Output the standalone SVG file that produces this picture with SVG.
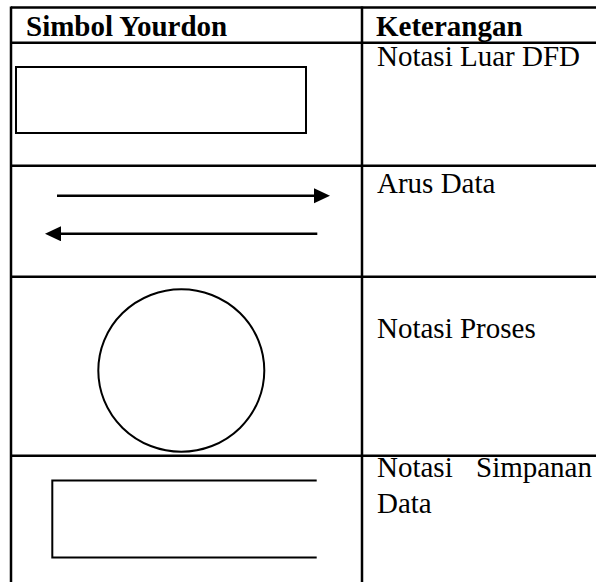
<svg xmlns="http://www.w3.org/2000/svg" width="596" height="582" viewBox="0 0 596 582">
  <style>
    .grid { stroke: #000; stroke-width: 2.5; fill: none; }
    .shape { stroke: #000; stroke-width: 2; fill: none; }
    .flow { stroke: #000; stroke-width: 2.5; fill: none; }
    text { font-family: 'Liberation Serif', 'Times New Roman', Times, 'DejaVu Serif', serif; font-size: 29px; fill: #000; }
    .hdr { font-weight: bold; }
  </style>
  <defs>
    <marker id="arrow" markerUnits="userSpaceOnUse" markerWidth="16" markerHeight="16" refX="4" refY="7.5" orient="auto">
      <path d="M0,0 L16,7.5 L0,15 Z" fill="#000"/>
    </marker>
  </defs>
  <rect width="596" height="582" fill="#fff"/>
  <g id="table">
    <line class="grid" x1="11" y1="7.5" x2="596" y2="7.5"/>
    <line class="grid" x1="11" y1="6.5" x2="11" y2="582"/>
    <line class="grid" x1="362" y1="6.5" x2="362" y2="582"/>
    <line class="grid" x1="11" y1="42.7" x2="596" y2="42.7"/>
    <line class="grid" x1="11" y1="165.7" x2="596" y2="165.7"/>
    <line class="grid" x1="11" y1="276.7" x2="596" y2="276.7"/>
    <line class="grid" x1="11" y1="455.7" x2="596" y2="455.7"/>
    <text class="hdr" x="26" y="36" font-family="Liberation Serif, serif">Simbol Yourdon</text>
    <text class="hdr" x="376" y="36" font-family="Liberation Serif, serif">Keterangan</text>
    <text x="377" y="65.5" font-family="Liberation Serif, serif">Notasi Luar DFD</text>
    <text x="377" y="192.7" font-family="Liberation Serif, serif">Arus Data</text>
    <text x="377" y="338.3" font-family="Liberation Serif, serif">Notasi Proses</text>
    <text x="377" y="476.7" font-family="Liberation Serif, serif">Notasi</text>
    <text x="592" y="476.7" text-anchor="end" font-family="Liberation Serif, serif">Simpanan</text>
    <text x="377" y="513.3" font-family="Liberation Serif, serif">Data</text>
  </g>
  <g id="external-entity">
    <rect class="shape" x="16" y="67" width="290" height="66"/>
  </g>
  <g id="connectors">
    <line class="flow" x1="57" y1="195.7" x2="318" y2="195.7" marker-end="url(#arrow)"/>
    <line class="flow" x1="317.3" y1="233.8" x2="57" y2="233.8" marker-end="url(#arrow)"/>
  </g>
  <g id="process">
    <ellipse class="shape" cx="181.3" cy="370.5" rx="83" ry="81.2"/>
  </g>
  <g id="data-store">
    <path class="shape" d="M316.7,480.5 H52.3 V557.5 H316.7"/>
  </g>
</svg>
